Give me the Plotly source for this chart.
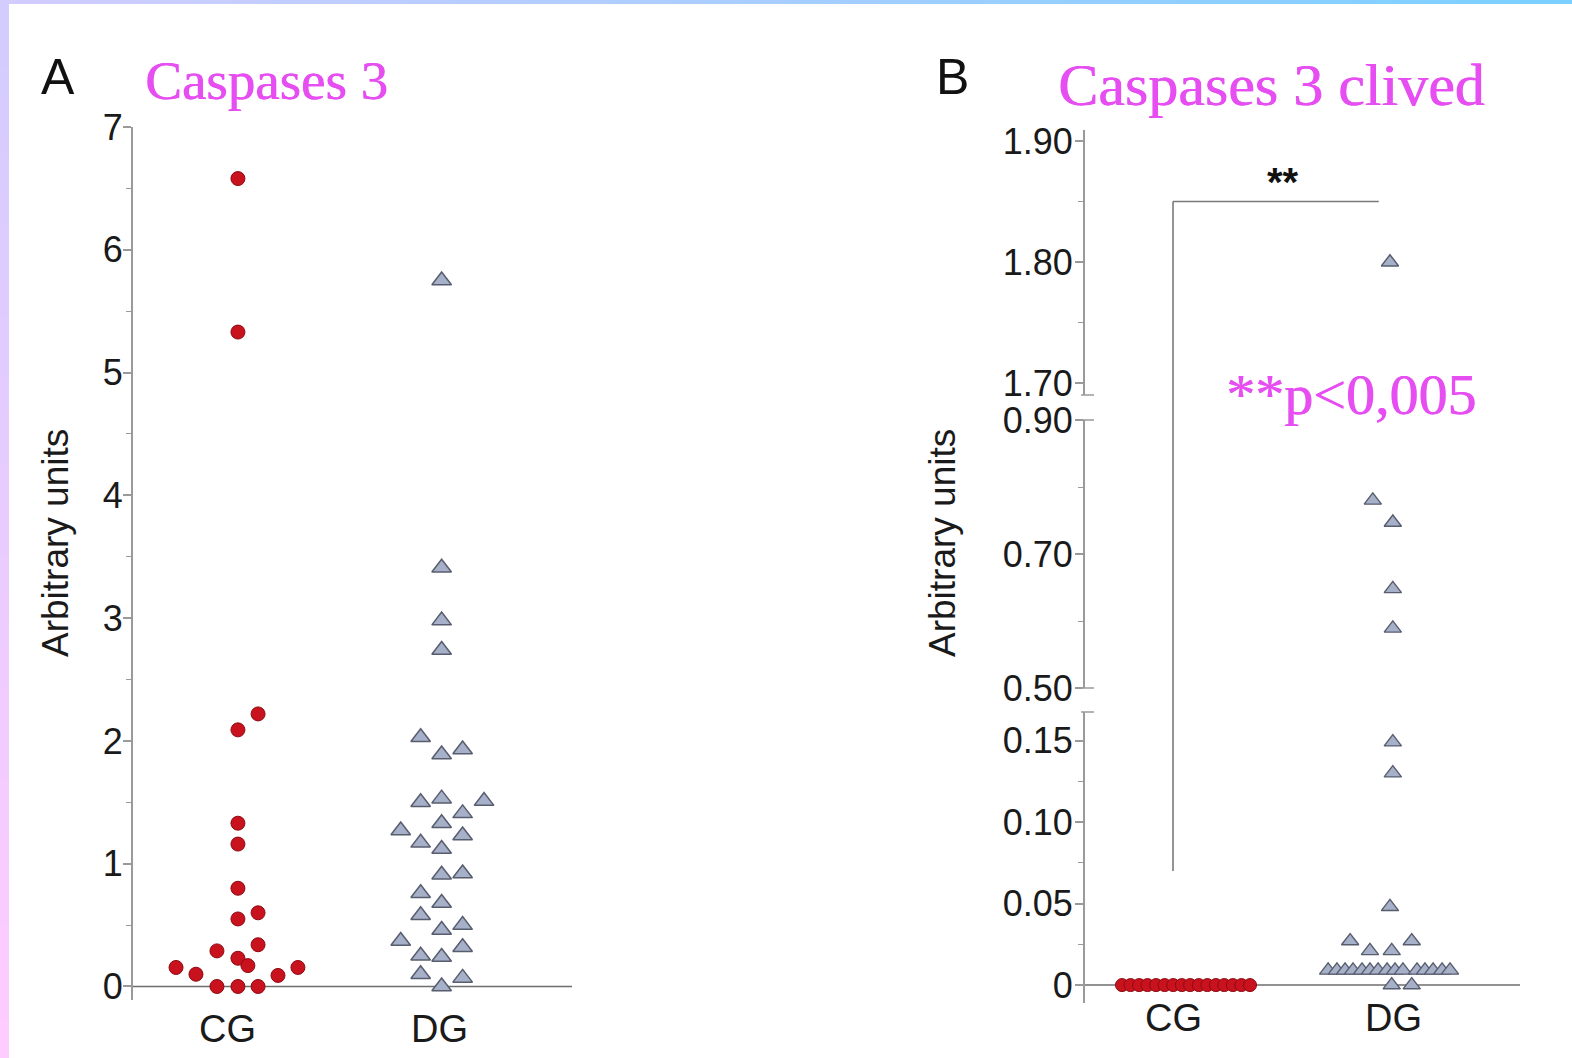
import plotly.graph_objects as go

W, H = 1572, 1058

# ---------------- data ----------------
groups = ["CG", "DG"]

# Panel A - Caspases 3 (arbitrary units)
a_cg_values = [6.58, 5.33, 2.22, 2.09, 1.33, 1.16, 0.80, 0.55, 0.60, 0.29,
               0.34, 0.23, 0.17, 0.155, 0.10, 0.155, 0.09, 0.0, 0.0, 0.0]
a_cg_jitter = [0.047, 0.047, 0.142, 0.047, 0.047, 0.047, 0.047, 0.047, 0.142, -0.052,
               0.142, 0.047, 0.094, -0.245, -0.151, 0.330, 0.236, -0.052, 0.047, 0.142]
a_dg_values = [5.75, 3.41, 2.98, 2.74, 2.03, 1.89, 1.93, 1.50, 1.53, 1.51,
               1.41, 1.33, 1.27, 1.17, 1.23, 1.12, 0.91, 0.92, 0.76, 0.68,
               0.58, 0.50, 0.46, 0.37, 0.25, 0.24, 0.32, 0.10, 0.07, 0.0]
a_dg_jitter = [0.008, 0.008, 0.008, 0.008, -0.091, 0.008, 0.107, -0.091, 0.008, 0.208,
               0.107, 0.008, -0.185, -0.091, 0.107, 0.008, 0.008, 0.107, -0.091, 0.008,
               -0.091, 0.107, 0.008, -0.185, -0.091, 0.008, 0.107, -0.091, 0.107, 0.008]

# Panel B - Caspases 3 clived (arbitrary units, broken axis)
b_cg_values = [0.0, 0.0, 0.0, 0.0, 0.0, 0.0, 0.0, 0.0,
               0.0, 0.0, 0.0, 0.0, 0.0, 0.0, 0.0, 0.0]
b_cg_jitter = [-0.232, -0.193, -0.154, -0.116, -0.077, -0.038, 0.001, 0.040,
               0.078, 0.117, 0.156, 0.195, 0.233, 0.272, 0.311, 0.350]
b_dg_values = [1.80, 0.78, 0.747, 0.648, 0.589, 0.149, 0.130, 0.048, 0.027, 0.027,
               0.021, 0.021,
               0.009, 0.009, 0.009, 0.009, 0.009, 0.009, 0.009, 0.009,
               0.009, 0.009, 0.009, 0.009, 0.009, 0.009, 0.009,
               0.0, 0.0]
b_dg_jitter = [-0.014, -0.092, -0.001, -0.001, -0.001, -0.001, -0.001, -0.014, -0.195, 0.085,
               -0.105, -0.006,
               -0.295, -0.255, -0.218, -0.182, -0.141, -0.105, -0.068, -0.027,
               0.009, 0.045, 0.109, 0.145, 0.182, 0.223, 0.259,
               -0.006, 0.085]

a_ticks = [0, 1, 2, 3, 4, 5, 6, 7]
b_bottom_ticks = [0, 0.05, 0.10, 0.15]
b_bottom_text = ["0", "0.05", "0.10", "0.15"]
b_mid_ticks = [0.50, 0.70, 0.90]
b_mid_text = ["0.50", "0.70", "0.90"]
b_top_ticks = [1.70, 1.80, 1.90]
b_top_text = ["1.70", "1.80", "1.90"]

# ---------------- styles ----------------
RED = "#c8121d"
RED_EDGE = "#8e0a12"
TRI = "#a6b0c9"
TRI_EDGE = "#585d6e"
AX = "#9a9a9a"
MAG = "#e64ef2"
SANS = "Liberation Sans, Arial, Helvetica, sans-serif"
SERIF = "Liberation Serif, Times New Roman, serif"


def py(px):  # pixel row -> paper y
    return 1 - px / H


def pxx(px):  # pixel col -> paper x
    return px / W


fig = go.Figure()

# ---- Panel A traces
fig.add_trace(go.Scatter(
    x=[1 + j for j in a_cg_jitter], y=a_cg_values, mode="markers",
    xaxis="x", yaxis="y", cliponaxis=False,
    marker=dict(symbol="circle", size=14, color=RED, line=dict(color=RED_EDGE, width=1))))
fig.add_trace(go.Scatter(
    x=[2 + j for j in a_dg_jitter], y=a_dg_values, mode="markers",
    xaxis="x", yaxis="y", cliponaxis=False,
    marker=dict(symbol="triangle-up", size=17, color=TRI, line=dict(color=TRI_EDGE, width=1.5))))

# ---- Panel B traces (split across the broken axis segments)
def seg_of(v):
    if v >= 1.6:
        return "y4"
    if v >= 0.45:
        return "y3"
    return "y2"

fig.add_trace(go.Scatter(
    x=[1 + j for j in b_cg_jitter], y=b_cg_values, mode="markers",
    xaxis="x2", yaxis="y2", cliponaxis=False,
    marker=dict(symbol="circle", size=13, color=RED, line=dict(color=RED_EDGE, width=1))))
for seg in ["y2", "y3", "y4"]:
    xs = [2 + j for v, j in zip(b_dg_values, b_dg_jitter) if seg_of(v) == seg]
    ys = [v for v in b_dg_values if seg_of(v) == seg]
    fig.add_trace(go.Scatter(
        x=xs, y=ys, mode="markers", xaxis="x2", yaxis=seg, cliponaxis=False,
        marker=dict(symbol="triangle-up", size=15, color=TRI, line=dict(color=TRI_EDGE, width=1.4))))

tickfont = dict(family=SANS, size=36, color="#1a1a1a")
xlabfont = dict(family=SANS, size=38, color="#1a1a1a")

yax_common = dict(showline=True, linecolor=AX, linewidth=2, ticks="outside", ticklen=8,
                  tickwidth=1.5, tickcolor=AX, showgrid=False, zeroline=False,
                  tickfont=tickfont, fixedrange=True, automargin=False)
xax_common = dict(showline=False, showgrid=False, zeroline=False, ticks="",
                  showticklabels=False, fixedrange=True, automargin=False)

# axis geometry
A_X_DOM = [pxx(133), pxx(572)]
A_X_RANGE = [0.552, 2.623]
A_Y_DOM = [py(1000), py(127)]
A_Y_RANGE = [-0.11, 7.0]

B_X_DOM = [pxx(1085), pxx(1520)]
B_X_RANGE = [0.6, 2.577]
B_BOT_DOM = [py(1003), py(712)]
B_BOT_RANGE = [-0.011, 0.1675]
B_MID_DOM = [py(688), py(420)]
B_MID_RANGE = [0.5, 0.9]
B_TOP_DOM = [py(395), py(130)]
B_TOP_RANGE = [1.6905, 1.909]

fig.update_layout(
    template="none",
    width=W, height=H, autosize=False,
    margin=dict(l=0, r=0, t=0, b=0, pad=0, autoexpand=False),
    paper_bgcolor="white", plot_bgcolor="rgba(0,0,0,0)", showlegend=False,
    xaxis=dict(domain=A_X_DOM, range=A_X_RANGE, anchor="y", **xax_common),
    yaxis=dict(domain=A_Y_DOM, range=A_Y_RANGE, anchor="x", tickvals=a_ticks,
               ticktext=[str(t) for t in a_ticks], ticklabelstandoff=-7,
               minor=dict(tickvals=[t + 0.5 for t in a_ticks[:-1]], ticks="outside", ticklen=5,
                          tickcolor=AX, tickwidth=1.2),
               **yax_common),
    xaxis2=dict(domain=B_X_DOM, range=B_X_RANGE, anchor="y2", **xax_common),
    yaxis2=dict(domain=B_BOT_DOM, range=B_BOT_RANGE, anchor="x2", tickvals=b_bottom_ticks,
                ticktext=b_bottom_text, ticklabelstandoff=-5,
                minor=dict(tickvals=[0.025, 0.075, 0.125], ticks="outside", ticklen=5,
                           tickcolor=AX, tickwidth=1.2),
                **yax_common),
    yaxis3=dict(domain=B_MID_DOM, range=B_MID_RANGE, anchor="x2", tickvals=b_mid_ticks,
                ticktext=b_mid_text, ticklabelstandoff=-5,
                minor=dict(tickvals=[0.60, 0.80], ticks="outside", ticklen=5,
                           tickcolor=AX, tickwidth=1.2),
                **yax_common),
    yaxis4=dict(domain=B_TOP_DOM, range=B_TOP_RANGE, anchor="x2", tickvals=b_top_ticks,
                ticktext=b_top_text, ticklabelstandoff=-5,
                minor=dict(tickvals=[1.75, 1.85], ticks="outside", ticklen=5,
                           tickcolor=AX, tickwidth=1.2),
                **yax_common),
)

shapes = []
# x-axis baselines at value 0
shapes.append(dict(type="line", xref="x domain", yref="y", x0=0, x1=1, y0=0, y1=0,
                   line=dict(color="#6e6e6e", width=1.6), layer="below"))
shapes.append(dict(type="line", xref="x2 domain", yref="y2", x0=0, x1=1, y0=0, y1=0,
                   line=dict(color="#6e6e6e", width=1.6), layer="below"))

# break caps on the segmented axis
for cap_px in [395, 420, 688, 712]:
    shapes.append(dict(type="line", xref="paper", yref="paper",
                       x0=pxx(1081), x1=pxx(1094), y0=py(cap_px), y1=py(cap_px),
                       line=dict(color=AX, width=1.5)))


def b_paper_y(v, dom, rng):
    return dom[0] + (v - rng[0]) / (rng[1] - rng[0]) * (dom[1] - dom[0])


def b_paper_x(v):
    return B_X_DOM[0] + (v - B_X_RANGE[0]) / (B_X_RANGE[1] - B_X_RANGE[0]) * (B_X_DOM[1] - B_X_DOM[0])


# significance bracket CG vs DG
br_top = b_paper_y(1.85, B_TOP_DOM, B_TOP_RANGE)
br_bot = b_paper_y(0.07, B_BOT_DOM, B_BOT_RANGE)
shapes.append(dict(type="line", xref="paper", yref="paper",
                   x0=b_paper_x(1), x1=b_paper_x(1), y0=br_bot, y1=br_top,
                   line=dict(color="#7a7a7a", width=1.6)))
shapes.append(dict(type="line", xref="paper", yref="paper",
                   x0=b_paper_x(1), x1=b_paper_x(1.935), y0=br_top, y1=br_top,
                   line=dict(color="#7a7a7a", width=1.6)))

# gradient frame (top band and left band)
def lerp(c1, c2, t):
    return "rgb(%d,%d,%d)" % tuple(round(a + (b - a) * t) for a, b in zip(c1, c2))

N = 80
for i in range(N):
    t = i / (N - 1)
    shapes.append(dict(type="rect", xref="paper", yref="paper",
                       x0=i / N, x1=(i + 1) / N + 0.001, y0=py(4), y1=1,
                       fillcolor=lerp((210, 204, 255), (122, 208, 255), t),
                       line=dict(width=0), layer="above"))
    shapes.append(dict(type="rect", xref="paper", yref="paper",
                       x0=0, x1=pxx(9), y0=1 - (i + 1) / N - 0.001, y1=1 - i / N,
                       fillcolor=lerp((210, 204, 255), (255, 204, 255), t),
                       line=dict(width=0), layer="above"))

fig.update_layout(shapes=shapes)


def label(text, x, y, font, xanchor="center", **kw):
    return dict(text=text, xref="paper", yref="paper", x=pxx(x), y=py(y),
                xanchor=xanchor, yanchor="middle", showarrow=False, font=font, **kw)


magshadow = "0.7px 0px 0px " + MAG
ann = [
    label("A", 58, 77, dict(family=SANS, size=50, color="#111")),
    label("B", 952, 77, dict(family=SANS, size=50, color="#111")),
    label("Caspases 3", 143, 80, dict(family=SERIF, size=55, color=MAG, shadow=magshadow),
          xanchor="left"),
    label("Caspases 3 clived", 1056, 85, dict(family=SERIF, size=60, color=MAG, shadow=magshadow),
          xanchor="left"),
    label("**p<0,005", 1224, 394, dict(family=SERIF, size=58, color=MAG, shadow=magshadow),
          xanchor="left"),
    dict(text="<b>**</b>", xref="x2", yref="y4", x=1.5, y=1.866, xanchor="center", yanchor="middle",
         showarrow=False, font=dict(family=SANS, size=40, color="#111")),
]
# category labels under each panel, placed on the library's x scales
for i, g in enumerate(groups):
    ann.append(dict(text=g, xref="x", yref="paper", x=i + 1, y=py(1029), xanchor="center",
                    yanchor="middle", showarrow=False, font=xlabfont))
    ann.append(dict(text=g, xref="x2", yref="paper", x=i + 1, y=py(1018), xanchor="center",
                    yanchor="middle", showarrow=False, font=xlabfont))
for xp in [55, 942]:
    ann.append(label("Arbitrary units", xp, 543, dict(family=SANS, size=37, color="#1a1a1a"),
                     textangle=-90))
fig.update_layout(annotations=ann)

pin = ("document.documentElement.style.margin='0';document.body.style.margin='0';"
       "document.documentElement.style.overflow='hidden';document.body.style.overflow='hidden';"
       "var gd=document.getElementById('{plot_id}');gd.style.position='fixed';"
       "gd.style.top='0px';gd.style.left='0px';")

fig.write_html("out.html", post_script=pin, config={"responsive": False, "displayModeBar": False})
